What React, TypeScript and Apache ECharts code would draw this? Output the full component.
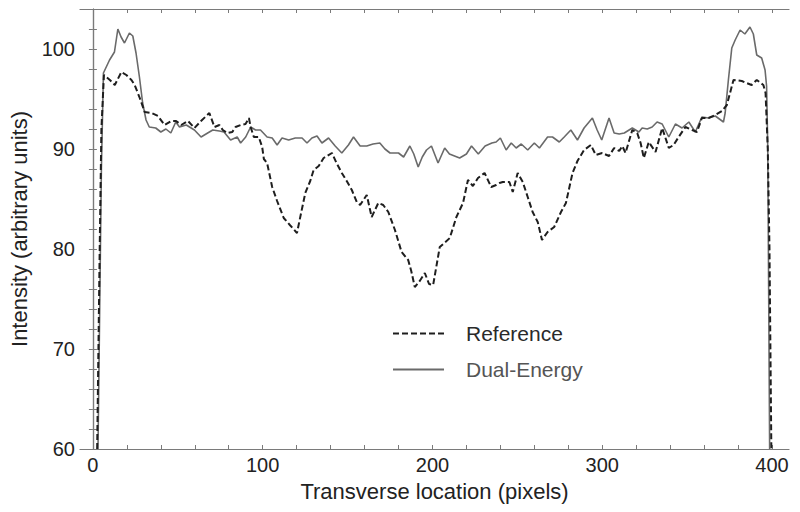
import React, { useEffect, useRef } from "react";
import * as echarts from "echarts";

const refX = [2.5, 4, 5, 6.5, 10, 12.9, 16.8, 19.7, 22.7, 24.6, 27.6, 30.5, 34.5, 38.3, 42.2, 46.1, 49, 52, 56, 59.8, 63.7, 68.6, 71.6, 74.5, 76.5, 79.2, 82.1, 84, 87, 89.9, 91.9, 92.9, 94.8, 97.7, 99.7, 100.7, 102.6, 105.6, 108.5, 112.4, 116, 120.2, 122.5, 125.1, 128, 130, 133, 135.9, 138, 140.8, 143.5, 146.6, 149.5, 152.5, 155.4, 157.4, 161.3, 164.2, 168.1, 171, 174, 177.9, 181.8, 185.7, 187.5, 189.6, 192.5, 195.5, 198, 200.4, 204.3, 207, 210.2, 214.1, 218, 220.9, 223.8, 226.8, 230.7, 234.6, 237.5, 239.5, 241.4, 245.3, 247.3, 250.2, 253.2, 256.1, 259, 262, 264.5, 267.8, 271.7, 275.7, 278.6, 282.5, 285.4, 289.3, 293.3, 296.2, 300, 304, 307, 310, 311.8, 313.7, 317.7, 320.6, 322.6, 324.5, 327.4, 331.4, 335.3, 339.2, 342, 345, 349, 353, 355.8, 358.7, 362.6, 366.6, 370.5, 373.4, 377.3, 382.2, 385, 388, 391, 394.9, 396.2, 397.5, 398.5, 399.6];
const refY = [60, 80, 92, 97.4, 96.9, 96.4, 97.7, 97.4, 96.9, 96.4, 95.1, 93.7, 93.6, 93.3, 92.4, 92.8, 92.8, 92.4, 92.8, 92.1, 92.8, 93.6, 92.2, 92.4, 91.9, 91.6, 91.7, 92.2, 92.4, 92.5, 93.1, 92.2, 91.2, 91.2, 90.2, 89, 88.6, 86.2, 84.8, 83.1, 82.4, 81.6, 83.5, 85.6, 86.8, 87.9, 88.3, 89.1, 89.3, 89.6, 88.6, 87.6, 86.8, 85.9, 84.7, 84.4, 85.4, 83.2, 84.6, 84.4, 83.7, 81.9, 79.7, 78.9, 77.8, 76.2, 76.8, 77.6, 76.5, 76.4, 80.2, 80.6, 81.1, 83.2, 84.6, 86.9, 86.3, 87.1, 87.6, 86.2, 86.4, 86.6, 86.7, 86.7, 85.7, 87.6, 86.7, 85.2, 83.7, 82.7, 80.9, 81.7, 82.2, 83.7, 84.6, 87.6, 88.8, 89.9, 90.4, 89.4, 89.6, 89.3, 90.1, 89.8, 90.3, 89.6, 91.9, 91.6, 90.6, 89.1, 90.7, 89.7, 92.1, 90.1, 90.4, 91.2, 92.2, 91.9, 91.7, 93.1, 93.1, 93.4, 93.8, 94.4, 96.9, 96.8, 96.6, 96.4, 96.9, 96.4, 95.6, 90, 80, 60];

const deX = [3, 5, 6.2, 9.8, 12.7, 14.7, 16.6, 18.6, 21.5, 23.5, 25.4, 27.4, 29.3, 31.3, 33.2, 37, 40, 43, 45.9, 48.8, 51, 55, 59.8, 63.7, 67.6, 70.6, 74.5, 77.2, 81.1, 85, 87, 90, 92.9, 95.8, 98.7, 102.6, 105.6, 108.5, 111.4, 115.3, 119.2, 123.2, 126.1, 129, 132, 134.9, 138.8, 142.7, 146.6, 150.5, 153.5, 157.4, 161.3, 165, 169, 172, 175, 180, 183, 186.7, 189, 191.6, 194, 196.5, 199.4, 203.3, 207.2, 210, 213, 216, 220, 223, 227, 231, 235, 237.5, 240, 243.4, 246.4, 249.3, 252.3, 256.1, 260, 263, 267.8, 270.7, 274.7, 277.6, 281.5, 285.4, 289.3, 294.2, 297, 299.7, 304, 307, 310, 313, 317.7, 321.6, 323.5, 326.5, 329.4, 332.3, 335.3, 339.2, 343.1, 347, 351, 354.8, 358.7, 362.6, 366.6, 371.4, 372.4, 374.3, 376.3, 378.3, 381.2, 384, 387, 389, 391, 393.9, 395.9, 396.8, 397.5, 398.6];
const deY = [60, 88, 97.6, 98.9, 99.7, 102, 101.2, 100.6, 101.6, 101.3, 99.6, 97.2, 94.6, 92.9, 92.2, 92.1, 91.7, 92, 91.6, 92.7, 92.2, 92.4, 91.9, 91.2, 91.6, 91.9, 91.8, 91.7, 90.9, 91.2, 90.6, 91.2, 92.2, 91.9, 91.9, 91.2, 91.1, 90.4, 91.1, 90.9, 91.1, 91.1, 90.6, 91.1, 91.3, 90.6, 91.1, 90.3, 89.6, 90.4, 91.2, 90.3, 90.3, 90.5, 90.6, 90, 89.6, 89.6, 89.2, 90.3, 89.5, 88.2, 89.2, 89.9, 90.3, 88.6, 90.1, 89.5, 89.3, 89.1, 89.5, 90.3, 89.5, 90.3, 90.6, 90.7, 91.1, 89.9, 90.6, 90.1, 90.5, 89.9, 90.6, 90.1, 91.2, 91.2, 90.7, 91.2, 91.9, 90.9, 92.1, 93.1, 91.9, 90.9, 93.1, 91.6, 91.5, 91.6, 92.1, 91.7, 92.1, 92, 92.2, 92.7, 92.5, 91.2, 92.5, 92.1, 92.7, 91.7, 93.2, 93.1, 93.3, 92.7, 93.6, 96.9, 100.1, 100.9, 101.9, 101.5, 102.2, 101.5, 99.4, 99.1, 97.9, 96.3, 90, 60];

const xTicks = [0, 20, 40, 60, 80, 100, 120, 140, 160, 180, 200, 220, 240, 260, 280, 300, 320, 340, 360, 380, 400];
const xLabels = [0, 100, 200, 300, 400];
const yTicks = [60, 62, 64, 66, 68, 70, 72, 74, 76, 78, 80, 82, 84, 86, 88, 90, 92, 94, 96, 98, 100, 102, 104];
const yLabels = [60, 70, 80, 90, 100];

const seriesNames = ["Reference", "Dual-Energy"];
const xTitle = "Transverse location (pixels)";
const yTitle = "Intensity (arbitrary units)";

const FONT = "Liberation Sans";
const AXIS_COLOR = "#7a7a7a";

export default function App() {
  const ref = useRef<HTMLDivElement>(null);
  useEffect(() => {
    if (!ref.current) return;
    const chart = echarts.init(ref.current, undefined, { renderer: "svg" });
    const refData = refX.map((x, i) => [x, refY[i]]);
    const deData = deX.map((x, i) => [x, deY[i]]);
    const lineAxis = { show: true, lineStyle: { color: AXIS_COLOR, width: 1.2 } };
    const tick = (vals: number[]) => ({
      show: true,
      inside: true,
      length: 4,
      customValues: vals,
      lineStyle: { color: AXIS_COLOR, width: 1 },
    });
    chart.setOption({
      animation: false,
      backgroundColor: "#ffffff",
      grid: { left: 77, right: 11, top: 9, bottom: 63, containLabel: false },
      xAxis: [
        {
          type: "value",
          position: "bottom",
          min: -7.6,
          max: 410,
          axisLine: lineAxis,
          axisTick: tick(xTicks),
          axisLabel: {
            customValues: xLabels,
            fontSize: 20,
            fontFamily: FONT,
            color: "#222",
            margin: 6,
          },
          splitLine: { show: false },
          name: xTitle,
          nameLocation: "middle",
          nameGap: 31,
          nameTextStyle: { fontSize: 22, fontFamily: FONT, color: "#222" },
        },
        {
          type: "value",
          position: "top",
          min: -7.6,
          max: 410,
          axisLine: lineAxis,
          axisTick: tick(xTicks),
          axisLabel: { show: false },
          splitLine: { show: false },
        },
      ],
      yAxis: [
        {
          type: "value",
          position: "left",
          min: 60,
          max: 104,
          axisLine: lineAxis,
          axisTick: tick(yTicks),
          axisLabel: {
            customValues: yLabels,
            fontSize: 20,
            fontFamily: FONT,
            color: "#222",
            margin: 5,
          },
          splitLine: { show: false },
          name: yTitle,
          nameLocation: "middle",
          nameGap: 50,
          nameRotate: 90,
          nameTextStyle: { fontSize: 22, fontFamily: FONT, color: "#222" },
        },
        {
          type: "value",
          position: "right",
          min: 60,
          max: 104,
          axisLine: lineAxis,
          axisTick: tick(yTicks),
          axisLabel: { show: false },
          splitLine: { show: false },
        },
      ],
      legend: {
        orient: "vertical",
        left: 387,
        top: 318,
        itemWidth: 51,
        itemHeight: 20,
        itemGap: 15,
        itemStyle: { opacity: 0 },
        data: [
          { name: seriesNames[0], textStyle: { color: "#2a2a2a" } },
          { name: seriesNames[1], textStyle: { color: "#555" } },
        ],
        textStyle: { fontSize: 21, fontFamily: FONT, padding: [0, 0, 0, 17] },
      },
      series: [
        {
          name: seriesNames[1],
          type: "line",
          data: deData,
          showSymbol: false,
          symbol: "none",
          z: 2,
          lineStyle: { color: "#6a6a6a", width: 1.6, type: "solid" },
          itemStyle: { color: "#6a6a6a" },
        },
        {
          name: seriesNames[0],
          type: "line",
          data: refData,
          showSymbol: false,
          symbol: "none",
          z: 3,
          lineStyle: { color: "#1e1e1e", width: 2, type: [6, 3] },
          itemStyle: { color: "#1e1e1e" },
        },
      ],
    });
    return () => chart.dispose();
  }, []);
  return (
    <div
      ref={ref}
      style={{ position: "fixed", left: 0, top: 0, width: 800, height: 512, background: "#fff" }}
    />
  );
}
